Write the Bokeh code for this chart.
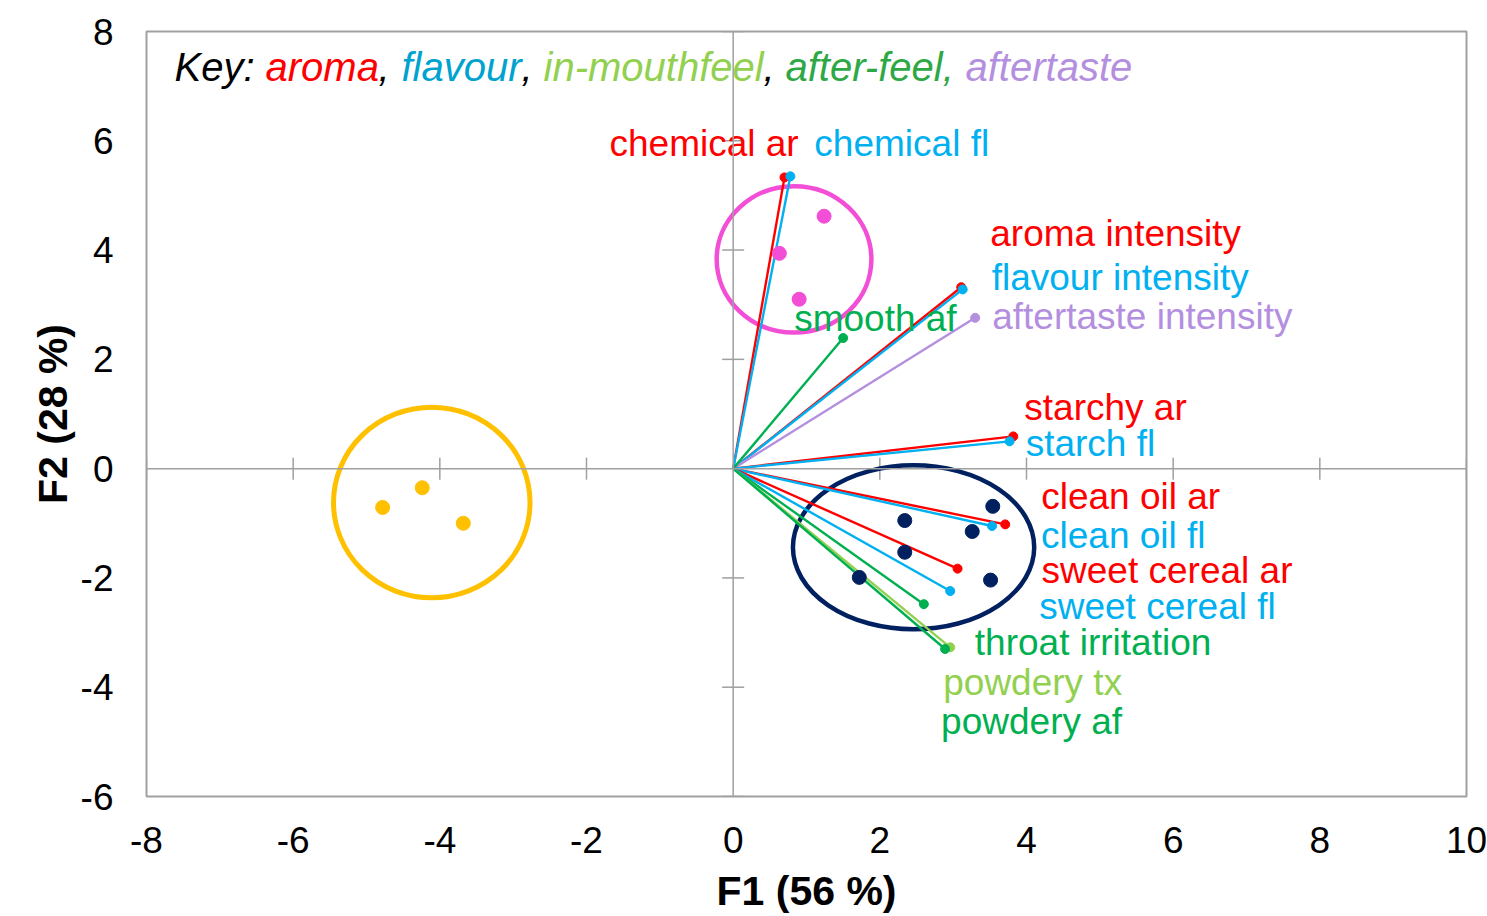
import math
from bokeh.plotting import figure
from bokeh.models import FixedTicker, Span, Range1d
from bokeh.core.properties import value
from bokeh.embed import file_html
from bokeh.resources import INLINE

FONT = "Liberation Sans"

# ---------------- data ----------------
# variable loadings (vectors)
var_names = ["chemical ar", "chemical fl", "aroma intensity", "flavour intensity",
             "aftertaste intensity", "smooth af", "starchy ar", "starch fl",
             "clean oil ar", "clean oil fl", "sweet cereal ar", "sweet cereal fl",
             "throat irritation", "powdery tx", "powdery af"]
var_f1 = [0.70, 0.78, 3.11, 3.13, 3.30, 1.50, 3.82, 3.77, 3.71, 3.53, 3.06, 2.96, 2.60, 2.96, 2.89]
var_f2 = [5.33, 5.35, 3.32, 3.28, 2.76, 2.39, 0.59, 0.50, -1.02, -1.05, -1.83, -2.24, -2.48, -3.27, -3.30]
var_group = ["aroma", "flavour", "aroma", "flavour", "aftertaste", "after-feel",
             "aroma", "flavour", "aroma", "flavour", "aroma", "flavour",
             "after-feel", "in-mouthfeel", "after-feel"]

# sample scores, by cluster
pink_f1 = [1.24, 0.63, 0.90]
pink_f2 = [4.62, 3.94, 3.10]
yellow_f1 = [-4.78, -4.24, -3.68]
yellow_f2 = [-0.71, -0.35, -1.00]
navy_f1 = [3.54, 2.34, 3.26, 2.34, 3.51, 1.72]
navy_f2 = [-0.69, -0.95, -1.15, -1.53, -2.04, -1.99]

# cluster outlines (centre and extent in F1/F2 units)
cluster_names = ["pink", "yellow", "navy"]
cluster_cx = [0.83, -4.11, 2.46]
cluster_cy = [3.83, -0.62, -1.44]
cluster_w = [2.11, 2.68, 3.29]
cluster_h = [2.68, 3.49, 3.00]

# axes
x_ticks = [-8, -6, -4, -2, 0, 2, 4, 6, 8, 10]
x_tick_labels = ["-8", "-6", "-4", "-2", "0", "2", "4", "6", "8", "10"]
y_ticks = [-6, -4, -2, 0, 2, 4, 6, 8]
y_tick_labels = ["-6", "-4", "-2", "0", "2", "4", "6", "8"]
x_title = "F1 (56 %)"
y_title = "F2 (28 %)"

key_parts = ["Key: ", "aroma", ", ", "flavour", ", ", "in-mouthfeel", ", ", "after-feel, ", "aftertaste"]
key_groups = ["text", "aroma", "text", "flavour", "text", "in-mouthfeel", "text", "after-feel", "aftertaste"]

# ---------------- styles ----------------
group_color = {"aroma": "#FF0000", "flavour": "#00B0F0", "in-mouthfeel": "#92D050",
               "after-feel": "#00B050", "aftertaste": "#B48FE0", "text": "#000000"}
key_color = {"aroma": "#FF0000", "flavour": "#00A2CF", "in-mouthfeel": "#92D050",
             "after-feel": "#2DA845", "aftertaste": "#B48FE0", "text": "#000000"}
cluster_color = {"pink": "#F24FD6", "yellow": "#FFC000", "navy": "#002060"}
cluster_lw = {"pink": 4.5, "yellow": 5, "navy": 4.5}

# label offsets (screen px, from vector tip)
label_dx = [-175, 24, 29, 29, 17, -49, 11, 16, 36, 49, 84, 89, 51, -7, -4]
label_dy = [-34, -33, -54, -12, -1, -20, -29, 2, -28, 9, 2, 15, 38, 35, 73]
key_dx = [28, 119, 232, 255, 375, 397, 617, 639, 819]

GREY = "#A0A0A0"

p = figure(width=1487, height=916, x_range=Range1d(-8, 10), y_range=Range1d(-6, 8),
           output_backend="svg", toolbar_location=None,
           min_border_left=146, min_border_right=21, min_border_top=31, min_border_bottom=118,
           background_fill_color="white", border_fill_color="white")
p.grid.visible = False
p.outline_line_color = GREY
p.outline_line_width = 2

for ax in (p.xaxis[0], p.yaxis[0]):
    ax.axis_line_color = None
    ax.major_tick_out = 0
    ax.major_tick_in = 0
    ax.minor_tick_out = 0
    ax.minor_tick_in = 0
    ax.major_label_text_font = FONT
    ax.major_label_text_font_size = "37px"
    ax.major_label_text_color = "black"
    ax.axis_label_text_font = FONT
    ax.axis_label_text_font_size = "41px"
    ax.axis_label_text_font_style = "bold"
    ax.axis_label_text_color = "black"

p.xaxis.ticker = FixedTicker(ticks=x_ticks)
p.xaxis.major_label_overrides = dict(zip(x_ticks, x_tick_labels))
p.xaxis.major_label_standoff = 30
p.xaxis.axis_label = x_title
p.xaxis.axis_label_standoff = 12

p.yaxis.ticker = FixedTicker(ticks=y_ticks)
p.yaxis.major_label_overrides = dict(zip(y_ticks, y_tick_labels))
p.yaxis.major_label_standoff = 33
p.yaxis.axis_label = y_title
p.yaxis.axis_label_standoff = 2

# crossing axes through origin
p.add_layout(Span(location=0, dimension="height", line_color=GREY, line_width=1.5))
p.add_layout(Span(location=0, dimension="width", line_color=GREY, line_width=1.5))
xt = [t for t in x_ticks if t != 0]
yt = [t for t in y_ticks if t != 0]
p.scatter(x=xt, y=[0] * len(xt), marker="dash", size=22, angle=math.pi / 2,
          line_color=GREY, line_width=1.5)
p.scatter(x=[0] * len(yt), y=yt, marker="dash", size=22, angle=0,
          line_color=GREY, line_width=1.5)

# cluster outlines
for i, name in enumerate(cluster_names):
    p.ellipse(x=[cluster_cx[i]], y=[cluster_cy[i]], width=[cluster_w[i]], height=[cluster_h[i]],
              fill_color=None, line_color=cluster_color[name], line_width=cluster_lw[name])

# vectors
vcol = [group_color[g] for g in var_group]
zeros = [0] * len(var_f1)
p.segment(x0=zeros, y0=zeros, x1=var_f1, y1=var_f2, line_color=vcol, line_width=2.4)
p.scatter(x=var_f1, y=var_f2, size=9, fill_color=vcol, line_color=vcol)

# scores
p.scatter(x=pink_f1, y=pink_f2, size=14, fill_color=cluster_color["pink"], line_color=cluster_color["pink"])
p.scatter(x=yellow_f1, y=yellow_f2, size=14, fill_color=cluster_color["yellow"], line_color=cluster_color["yellow"])
p.scatter(x=navy_f1, y=navy_f2, size=14, fill_color=cluster_color["navy"], line_color=cluster_color["navy"])

# labels
p.text(x=var_f1, y=var_f2, text=var_names, x_offset=label_dx, y_offset=label_dy,
       text_font=value(FONT), text_font_size="37px", text_color=vcol,
       text_align="left", text_baseline="middle")

# key
p.text(x=[-8] * len(key_parts), y=[8] * len(key_parts), text=key_parts,
       x_offset=key_dx, y_offset=[35] * len(key_parts),
       text_font=value(FONT), text_font_size="40px", text_font_style="italic",
       text_color=[key_color[g] for g in key_groups],
       text_align="left", text_baseline="middle")

open("out.html", "w").write(file_html(p, INLINE))
